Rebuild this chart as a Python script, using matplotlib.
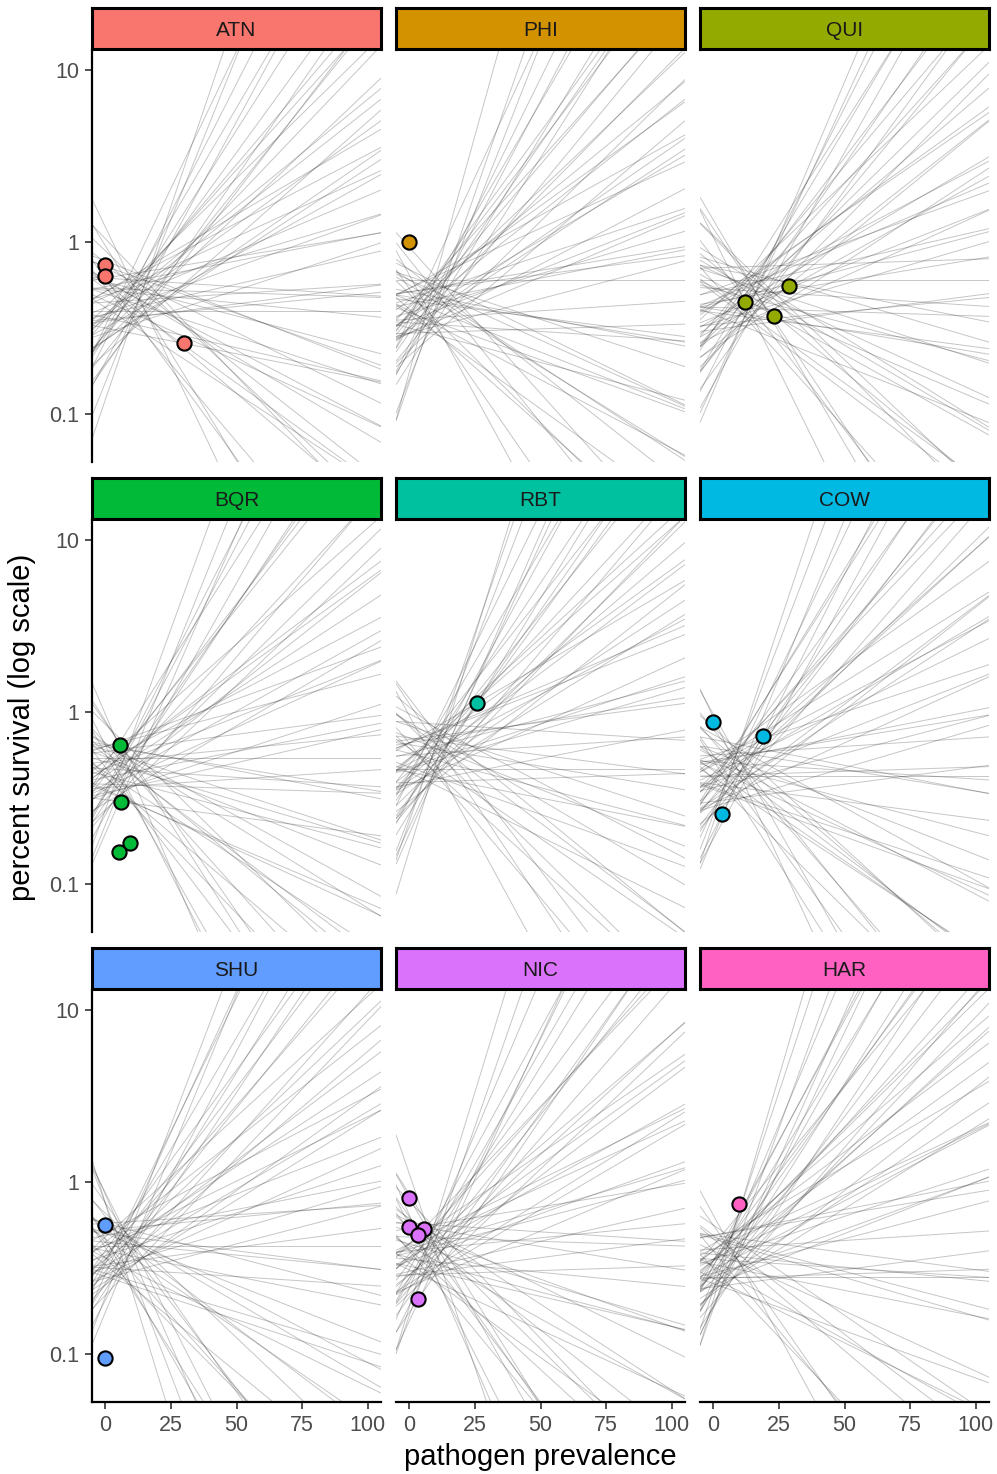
import numpy as np
import matplotlib
matplotlib.use("Agg")
import matplotlib.pyplot as plt

plt.rcParams['font.family'] = ['Liberation Sans', 'DejaVu Sans']

# ---------------- data ----------------
sites = ["ATN", "PHI", "QUI", "BQR", "RBT", "COW", "SHU", "NIC", "HAR"]
site_colors = ["#F8766D", "#D39200", "#93AA00", "#00BA38", "#00C19F",
               "#00B9E3", "#619CFF", "#DB72FB", "#FF61C3"]

# observed populations: pathogen prevalence (%) and percent survival
atn_prev = [0, 0, 30]
atn_surv = [0.73, 0.63, 0.26]
phi_prev = [0]
phi_surv = [1.0]
qui_prev = [12, 29, 23]
qui_surv = [0.45, 0.555, 0.37]
bqr_prev = [5.7, 6.1, 9.5, 5.3]
bqr_surv = [0.64, 0.30, 0.173, 0.153]
rbt_prev = [26]
rbt_surv = [1.13]
cow_prev = [0, 19, 3.4]
cow_surv = [0.875, 0.725, 0.255]
shu_prev = [0, 0]
shu_surv = [0.56, 0.095]
nic_prev = [0, 0, 5.7, 3.4, 3.4]
nic_surv = [0.81, 0.547, 0.533, 0.49, 0.209]
har_prev = [10]
har_surv = [0.745]

# posterior draws (two chains): log10 survival at prevalence 0,
# and change in log10 survival per 100 % prevalence
atn_int = [-0.02, -0.26, 0.02, -0.23, -0.12, -0.38, -0.22, -0.15, -0.34, -0.14,
           -0.30, -0.23, -0.50, -0.28, -0.21, -0.40, -0.35, -0.46, -0.21, -0.42,
           -0.31, -0.53, -0.38, -0.32, -0.50, -0.29, -0.57, -0.45, -0.42, -0.65,
           -0.38, -0.54, -0.45, -0.64, -0.53, -0.72, -0.52, -0.70, -0.49, -0.92]
atn_slope = [-2.5, -1.8, -1.6, -1.3, -1.2, -1.0, -0.9, -0.75, -0.7, -0.55,
             -0.5, -0.4, -0.3, -0.15, -0.1, 0.0, 0.1, 0.2, 0.25, 0.35,
             0.45, 0.5, 0.65, 0.7, 0.85, 0.9, 1.05, 1.1, 1.25, 1.35,
             1.5, 1.6, 1.8, 1.9, 2.1, 2.2, 2.6, 2.8, 3.2, 4.5]
atn_int2 = [0.09, -0.21, -0.05, -0.27, -0.23, -0.11, -0.44, -0.27, -0.45, -0.26,
            -0.42, -0.29, -0.57, -0.43, -0.57, -0.43, -0.71, -0.55, -0.58, -0.82]
atn_slope2 = [-3.2, -2.1, -1.45, -1.1, -0.8, -0.6, -0.35, -0.05, 0.15, 0.3,
              0.55, 0.8, 1.0, 1.2, 1.45, 1.7, 2.0, 2.4, 3.0, 3.8]

phi_int = [-0.27, -0.03, -0.30, -0.16, -0.42, -0.25, -0.40, -0.22, -0.34, -0.20,
           -0.50, -0.29, -0.34, -0.47, -0.22, -0.45, -0.29, -0.36, -0.53, -0.33,
           -0.46, -0.27, -0.53, -0.44, -0.51, -0.34, -0.43, -0.66, -0.42, -0.50,
           -0.37, -0.60, -0.42, -0.53, -0.71, -0.49, -0.63, -0.45, -0.80, -0.76]
phi_slope = [-2.2, -1.7, -1.5, -1.2, -1.1, -0.95, -0.8, -0.7, -0.6, -0.5,
             -0.4, -0.3, -0.2, -0.1, 0.0, 0.1, 0.2, 0.3, 0.4, 0.5,
             0.6, 0.7, 0.8, 0.9, 1.0, 1.1, 1.2, 1.3, 1.45, 1.55,
             1.7, 1.85, 2.0, 2.2, 2.4, 2.6, 2.9, 3.3, 3.9, 5.5]
phi_int2 = [-0.19, -0.10, -0.39, -0.22, -0.16, -0.41, -0.32, -0.53, -0.29, -0.41,
            -0.53, -0.27, -0.50, -0.38, -0.63, -0.45, -0.41, -0.64, -0.60, -0.82]
phi_slope2 = [-2.8, -1.9, -1.35, -1.0, -0.75, -0.55, -0.25, 0.05, 0.25, 0.45,
              0.65, 0.85, 1.05, 1.25, 1.5, 1.8, 2.1, 2.5, 3.1, 4.4]

qui_int = [0.13, -0.09, -0.23, 0.04, -0.13, -0.27, -0.08, -0.23, -0.17, -0.42,
           -0.18, -0.27, -0.15, -0.41, -0.27, -0.38, -0.15, -0.48, -0.35, -0.29,
           -0.47, -0.28, -0.44, -0.55, -0.37, -0.45, -0.62, -0.37, -0.55, -0.47,
           -0.38, -0.65, -0.51, -0.66, -0.51, -0.65, -0.51, -0.83, -0.72, -0.87]
qui_slope = [-2.6, -2.0, -1.7, -1.45, -1.25, -1.1, -0.95, -0.85, -0.7, -0.6,
             -0.5, -0.4, -0.3, -0.2, -0.1, -0.05, 0.05, 0.15, 0.25, 0.35,
             0.45, 0.55, 0.6, 0.7, 0.8, 0.9, 1.0, 1.1, 1.2, 1.3,
             1.45, 1.55, 1.7, 1.85, 2.0, 2.2, 2.4, 2.7, 3.0, 3.6]
qui_int2 = [0.03, 0.08, 0.03, -0.29, -0.15, -0.26, -0.11, -0.39, -0.22, -0.51,
            -0.36, -0.34, -0.51, -0.35, -0.61, -0.53, -0.46, -0.75, -0.62, -0.83]
qui_slope2 = [-3.1, -2.3, -1.55, -1.15, -0.9, -0.65, -0.45, -0.25, 0.0, 0.2,
              0.4, 0.65, 0.85, 1.05, 1.25, 1.5, 1.8, 2.1, 2.55, 3.3]

bqr_int = [-0.19, -0.05, -0.32, -0.18, -0.07, -0.38, -0.25, -0.35, -0.18, -0.45,
           -0.26, -0.22, -0.37, -0.19, -0.51, -0.33, -0.27, -0.44, -0.23, -0.38,
           -0.20, -0.48, -0.33, -0.44, -0.29, -0.53, -0.37, -0.33, -0.45, -0.28,
           -0.51, -0.43, -0.58, -0.37, -0.48, -0.31, -0.60, -0.46, -0.71, -0.57]
bqr_slope = [-3.0, -2.4, -2.0, -1.7, -1.5, -1.3, -1.15, -1.0, -0.85, -0.7,
             -0.6, -0.5, -0.4, -0.3, -0.2, -0.1, 0.0, 0.1, 0.2, 0.3,
             0.4, 0.5, 0.6, 0.7, 0.8, 0.9, 1.0, 1.1, 1.2, 1.35,
             1.5, 1.65, 1.8, 2.0, 2.2, 2.4, 2.7, 3.0, 3.5, 4.2]
bqr_int2 = [-0.01, -0.24, -0.06, -0.37, -0.23, -0.19, -0.46, -0.29, -0.20, -0.42,
            -0.29, -0.47, -0.20, -0.42, -0.33, -0.57, -0.35, -0.53, -0.48, -0.66]
bqr_slope2 = [-3.6, -2.7, -2.2, -1.6, -1.25, -0.95, -0.65, -0.45, -0.25, -0.05,
              0.15, 0.35, 0.55, 0.85, 1.15, 1.45, 1.9, 2.3, 2.9, 3.8]

rbt_int = [0.05, -0.18, -0.08, 0.03, -0.21, -0.06, -0.35, -0.15, -0.08, -0.24,
           -0.35, -0.15, -0.06, -0.33, -0.25, -0.16, -0.42, -0.24, -0.32, -0.18,
           -0.42, -0.30, -0.18, -0.40, -0.27, -0.52, -0.38, -0.27, -0.47, -0.36,
           -0.55, -0.31, -0.50, -0.40, -0.59, -0.51, -0.39, -0.71, -0.61, -0.81]
rbt_slope = [-2.3, -1.8, -1.5, -1.25, -1.05, -0.9, -0.75, -0.6, -0.5, -0.4,
             -0.3, -0.2, -0.1, 0.0, 0.1, 0.2, 0.3, 0.4, 0.5, 0.6,
             0.7, 0.8, 0.9, 1.0, 1.1, 1.2, 1.3, 1.4, 1.5, 1.65,
             1.8, 1.95, 2.1, 2.3, 2.5, 2.8, 3.1, 3.5, 4.0, 5.0]
rbt_int2 = [-0.02, 0.08, -0.21, -0.07, -0.01, -0.32, -0.19, -0.41, -0.18, -0.33,
            -0.18, -0.43, -0.35, -0.28, -0.54, -0.38, -0.51, -0.36, -0.67, -0.64]
rbt_slope2 = [-2.8, -2.0, -1.4, -1.15, -0.8, -0.55, -0.25, 0.05, 0.25, 0.45,
              0.65, 0.95, 1.15, 1.35, 1.6, 1.9, 2.2, 2.6, 3.3, 4.4]

cow_int = [-0.01, -0.25, -0.17, -0.39, -0.16, -0.26, -0.38, -0.13, -0.33, -0.23,
           -0.44, -0.30, -0.16, -0.42, -0.29, -0.37, -0.25, -0.52, -0.29, -0.44,
           -0.25, -0.41, -0.53, -0.31, -0.39, -0.51, -0.28, -0.59, -0.40, -0.50,
           -0.36, -0.59, -0.49, -0.43, -0.58, -0.42, -0.74, -0.57, -0.73, -0.65]
cow_slope = [-2.7, -2.1, -1.75, -1.5, -1.3, -1.15, -1.0, -0.85, -0.7, -0.6,
             -0.5, -0.4, -0.3, -0.2, -0.1, 0.0, 0.1, 0.2, 0.3, 0.4,
             0.5, 0.6, 0.7, 0.8, 0.9, 1.0, 1.1, 1.2, 1.35, 1.5,
             1.6, 1.75, 1.9, 2.1, 2.3, 2.5, 2.8, 3.2, 3.7, 4.6]
cow_int2 = [-0.03, -0.28, -0.10, -0.09, -0.34, -0.26, -0.45, -0.21, -0.37, -0.28,
            -0.55, -0.36, -0.30, -0.53, -0.45, -0.38, -0.56, -0.40, -0.70, -0.60]
cow_slope2 = [-3.3, -2.4, -1.9, -1.4, -1.05, -0.8, -0.55, -0.25, 0.05, 0.25,
              0.45, 0.75, 0.95, 1.15, 1.4, 1.7, 2.0, 2.4, 3.0, 4.0]

shu_int = [-0.12, -0.06, -0.38, -0.20, -0.35, -0.18, -0.48, -0.33, -0.25, -0.44,
           -0.30, -0.55, -0.24, -0.40, -0.30, -0.50, -0.37, -0.24, -0.48, -0.31,
           -0.56, -0.43, -0.37, -0.54, -0.30, -0.49, -0.41, -0.60, -0.35, -0.54,
           -0.47, -0.66, -0.43, -0.52, -0.40, -0.63, -0.46, -0.69, -0.54, -0.67]
shu_slope = [-4.0, -3.0, -2.4, -2.0, -1.7, -1.45, -1.25, -1.05, -0.9, -0.75,
             -0.6, -0.5, -0.4, -0.3, -0.2, -0.1, 0.0, 0.1, 0.2, 0.3,
             0.4, 0.5, 0.6, 0.7, 0.8, 0.9, 1.0, 1.1, 1.2, 1.3,
             1.45, 1.6, 1.75, 1.9, 2.1, 2.3, 2.6, 2.9, 3.3, 4.0]
shu_int2 = [-0.12, -0.07, -0.33, -0.12, -0.44, -0.27, -0.25, -0.53, -0.35, -0.28,
            -0.50, -0.37, -0.58, -0.45, -0.32, -0.60, -0.45, -0.59, -0.48, -0.76]
shu_slope2 = [-5.0, -3.5, -2.7, -2.2, -1.55, -1.15, -0.8, -0.45, -0.15, 0.15,
              0.45, 0.75, 0.95, 1.15, 1.4, 1.7, 2.0, 2.45, 3.1, 3.7]

nic_int = [-0.19, -0.09, -0.20, -0.40, -0.11, -0.39, -0.26, -0.21, -0.37, -0.51,
           -0.29, -0.36, -0.49, -0.25, -0.45, -0.32, -0.54, -0.40, -0.27, -0.52,
           -0.39, -0.46, -0.61, -0.36, -0.44, -0.59, -0.36, -0.54, -0.44, -0.65,
           -0.36, -0.62, -0.56, -0.47, -0.76, -0.58, -0.51, -0.72, -0.62, -0.78]
nic_slope = [-3.5, -2.7, -2.2, -1.85, -1.6, -1.4, -1.2, -1.0, -0.85, -0.7,
             -0.55, -0.45, -0.35, -0.25, -0.15, -0.05, 0.05, 0.15, 0.25, 0.35,
             0.45, 0.55, 0.65, 0.75, 0.85, 0.95, 1.05, 1.15, 1.3, 1.45,
             1.6, 1.75, 1.9, 2.05, 2.25, 2.5, 2.8, 3.1, 3.6, 4.4]
nic_int2 = [0.05, -0.25, -0.07, -0.28, -0.22, -0.47, -0.23, -0.44, -0.24, -0.54,
            -0.41, -0.38, -0.61, -0.45, -0.54, -0.42, -0.67, -0.56, -0.81, -0.73]
nic_slope2 = [-4.5, -3.0, -2.45, -2.0, -1.5, -1.1, -0.75, -0.4, -0.1, 0.2,
              0.4, 0.7, 0.9, 1.1, 1.4, 1.7, 2.15, 2.65, 3.3, 5.0]

har_int = [-0.25, -0.50, -0.33, -0.25, -0.49, -0.40, -0.59, -0.32, -0.48, -0.31,
           -0.45, -0.55, -0.39, -0.61, -0.31, -0.53, -0.45, -0.60, -0.39, -0.51,
           -0.36, -0.59, -0.46, -0.65, -0.40, -0.57, -0.45, -0.64, -0.53, -0.37,
           -0.62, -0.52, -0.73, -0.49, -0.62, -0.49, -0.73, -0.57, -0.74, -0.69]
har_slope = [-2.2, -1.6, -1.3, -1.05, -0.85, -0.7, -0.55, -0.4, -0.3, -0.2,
             -0.1, 0.0, 0.1, 0.2, 0.3, 0.4, 0.5, 0.6, 0.7, 0.8,
             0.9, 1.0, 1.1, 1.2, 1.3, 1.4, 1.5, 1.6, 1.7, 1.85,
             2.0, 2.15, 2.3, 2.5, 2.7, 2.9, 3.2, 3.6, 4.2, 5.2]
har_int2 = [-0.19, -0.40, -0.31, -0.56, -0.33, -0.42, -0.56, -0.31, -0.55, -0.45,
            -0.63, -0.40, -0.54, -0.46, -0.70, -0.46, -0.63, -0.46, -0.72, -0.63]
har_slope2 = [-2.8, -1.85, -1.15, -0.75, -0.45, -0.15, 0.05, 0.25, 0.55, 0.75,
              0.95, 1.15, 1.35, 1.55, 1.8, 2.05, 2.4, 2.8, 3.4, 4.6]

x_ticks = [0, 25, 50, 75, 100]
y_ticks = [0.1, 1, 10]
y_tick_labels = ["0.1", "1", "10"]

panel_data = {
    "ATN": (atn_prev, atn_surv, atn_int + atn_int2, atn_slope + atn_slope2),
    "PHI": (phi_prev, phi_surv, phi_int + phi_int2, phi_slope + phi_slope2),
    "QUI": (qui_prev, qui_surv, qui_int + qui_int2, qui_slope + qui_slope2),
    "BQR": (bqr_prev, bqr_surv, bqr_int + bqr_int2, bqr_slope + bqr_slope2),
    "RBT": (rbt_prev, rbt_surv, rbt_int + rbt_int2, rbt_slope + rbt_slope2),
    "COW": (cow_prev, cow_surv, cow_int + cow_int2, cow_slope + cow_slope2),
    "SHU": (shu_prev, shu_surv, shu_int + shu_int2, shu_slope + shu_slope2),
    "NIC": (nic_prev, nic_surv, nic_int + nic_int2, nic_slope + nic_slope2),
    "HAR": (har_prev, har_surv, har_int + har_int2, har_slope + har_slope2),
}

# ---------------- layout ----------------
W, H = 997, 1474
fig = plt.figure(figsize=(W / 100, H / 100), dpi=100)


def rect(x0, y0, w, h):
    return [x0 / W, 1 - (y0 + h) / H, w / W, h / H]


col_x = [92, 396, 700]
row_y = [50, 520, 990]
pw, ph = 289, 412
xlim = (-5, 105)
ylim = (10 ** -1.279, 10 ** 1.116)
xs = np.array(xlim, dtype=float)

for i, site in enumerate(sites):
    r, c = divmod(i, 3)
    prev, surv, ints, slopes = panel_data[site]
    ax = fig.add_axes(rect(col_x[c], row_y[r], pw, ph))
    ax.set_yscale('log')
    for a, b in zip(ints, slopes):
        ax.plot(xs, 10 ** (a + b * xs / 100.0), color='#222222', alpha=0.26,
                lw=0.7, solid_capstyle='butt', zorder=1)
    ax.scatter(prev, surv, s=105, facecolor=site_colors[i], edgecolor='black',
               linewidth=1.5, zorder=3, clip_on=False)
    ax.set_xlim(*xlim)
    ax.set_ylim(*ylim)
    ax.minorticks_off()
    for sp in ['top', 'right']:
        ax.spines[sp].set_visible(False)
    ax.spines['left'].set_linewidth(1.6)
    ax.spines['bottom'].set_linewidth(1.6)
    ax.spines['left'].set_visible(c == 0)
    ax.spines['bottom'].set_visible(r == 2)
    ax.set_xticks(x_ticks)
    ax.set_yticks(y_ticks)
    ax.set_yticklabels(y_tick_labels)
    ax.tick_params(axis='both', length=5, width=1.2, color='#333333',
                   labelsize=15.5, labelcolor='#4D4D4D')
    ax.tick_params(axis='y', pad=4)
    ax.tick_params(axis='x', pad=4.5)
    if c != 0:
        ax.tick_params(axis='y', left=False, labelleft=False)
    if r != 2:
        ax.tick_params(axis='x', bottom=False, labelbottom=False)
    ax.patch.set_alpha(0)

    # facet strip
    sx = fig.add_axes(rect(col_x[c], row_y[r] - 42, pw, 41))
    sx.set_facecolor(site_colors[i])
    sx.set_xticks([])
    sx.set_yticks([])
    for sp in sx.spines.values():
        sp.set_linewidth(2.2)
        sp.set_color('black')
    sx.text(0.5, 0.44, site, ha='center', va='center', fontsize=15,
            color='#1A1A1A', transform=sx.transAxes)

fig.text(540 / W, 1 - 1457 / H, "pathogen prevalence", ha='center',
         va='center', fontsize=21, color='black')
fig.text(22 / W, 1 - 727 / H, "percent survival (log scale)", ha='center',
         va='center', rotation=90, fontsize=21, color='black')

fig.savefig("out.png", dpi=100)
